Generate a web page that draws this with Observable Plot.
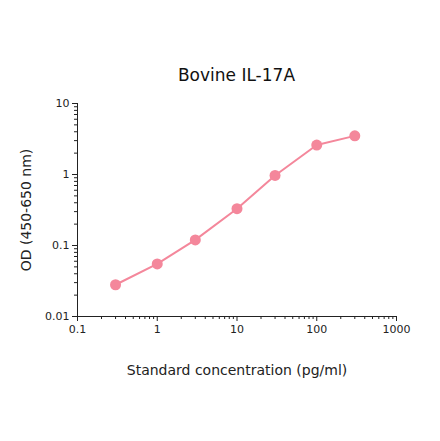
<!DOCTYPE html>
<html>
<head>
<meta charset="utf-8">
<script src="https://cdn.jsdelivr.net/npm/d3@7"></script>
<script src="https://cdn.jsdelivr.net/npm/@observablehq/plot@0.6"></script>
<style>
  body { margin: 0; background: #fff; font-family: "DejaVu Sans", sans-serif; }
  #wrap { position: relative; width: 440px; height: 441px; }
  #title { position: absolute; left: 77px; width: 319px; top: 65px; text-align: center; font-size: 17px; color: #111; }
</style>
</head>
<body>
<div id="wrap">
  <div id="title">Bovine IL-17A</div>
  <div id="chart"></div>
</div>
<script>
const concentration = [0.3, 1, 3, 10, 30, 100, 300]
const od = [0.028, 0.055, 0.12, 0.33, 0.97, 2.6, 3.5]
const xTicks = [0.1, 1, 10, 100, 1000]
const yTicks = [0.01, 0.1, 1, 10]

const data = concentration.map((c, i) => ({conc: c, od: od[i]}))

// marcas menores 2..9 en cada década
const minor = ticks => ticks.slice(0, -1).flatMap(t => d3.range(2, 10).map(k => +(t * k).toPrecision(3)))

const pink = "#f4879b"

let chart = Plot.plot({
  width: 440,
  height: 441,
  marginLeft: 77,
  marginRight: 44,
  marginTop: 103,
  marginBottom: 125,
  style: { fontFamily: "DejaVu Sans, sans-serif", fontSize: "11px", color: "#222" },
  x: { type: "log", domain: [0.1, 1000] },
  y: { type: "log", domain: [0.01, 10] },
  marks: [
    Plot.axisX({ ticks: xTicks, tickSize: 5, tickPadding: 4, tickFormat: d => String(d),
      label: "Standard concentration (pg/ml)", labelAnchor: "center", labelArrow: "none", labelOffset: 58 }),
    Plot.axisX({ ticks: minor(xTicks), tickSize: 3, tickFormat: null, label: null, text: null }),
    Plot.axisY({ ticks: yTicks, tickSize: 5, tickPadding: 3, tickFormat: d => String(d),
      label: "OD (450-650 nm)", labelAnchor: "center", labelArrow: "none", labelOffset: 56 }),
    Plot.axisY({ ticks: minor(yTicks), tickSize: 3, tickFormat: null, label: null, text: null }),
    Plot.ruleY([0.01], { stroke: "#222" }),
    Plot.ruleX([0.1], { stroke: "#222" }),
    Plot.line(data, { x: "conc", y: "od", stroke: pink, strokeWidth: 2 }),
    Plot.dot(data, { x: "conc", y: "od", r: 5.5, fill: pink, stroke: "none" })
  ]
})

d3.select("#chart").append(() => chart)
d3.select(chart).selectAll("[aria-label='x-axis label'] text, [aria-label='y-axis label'] text").style("font-size", "14px")
</script>
</body>
</html>
